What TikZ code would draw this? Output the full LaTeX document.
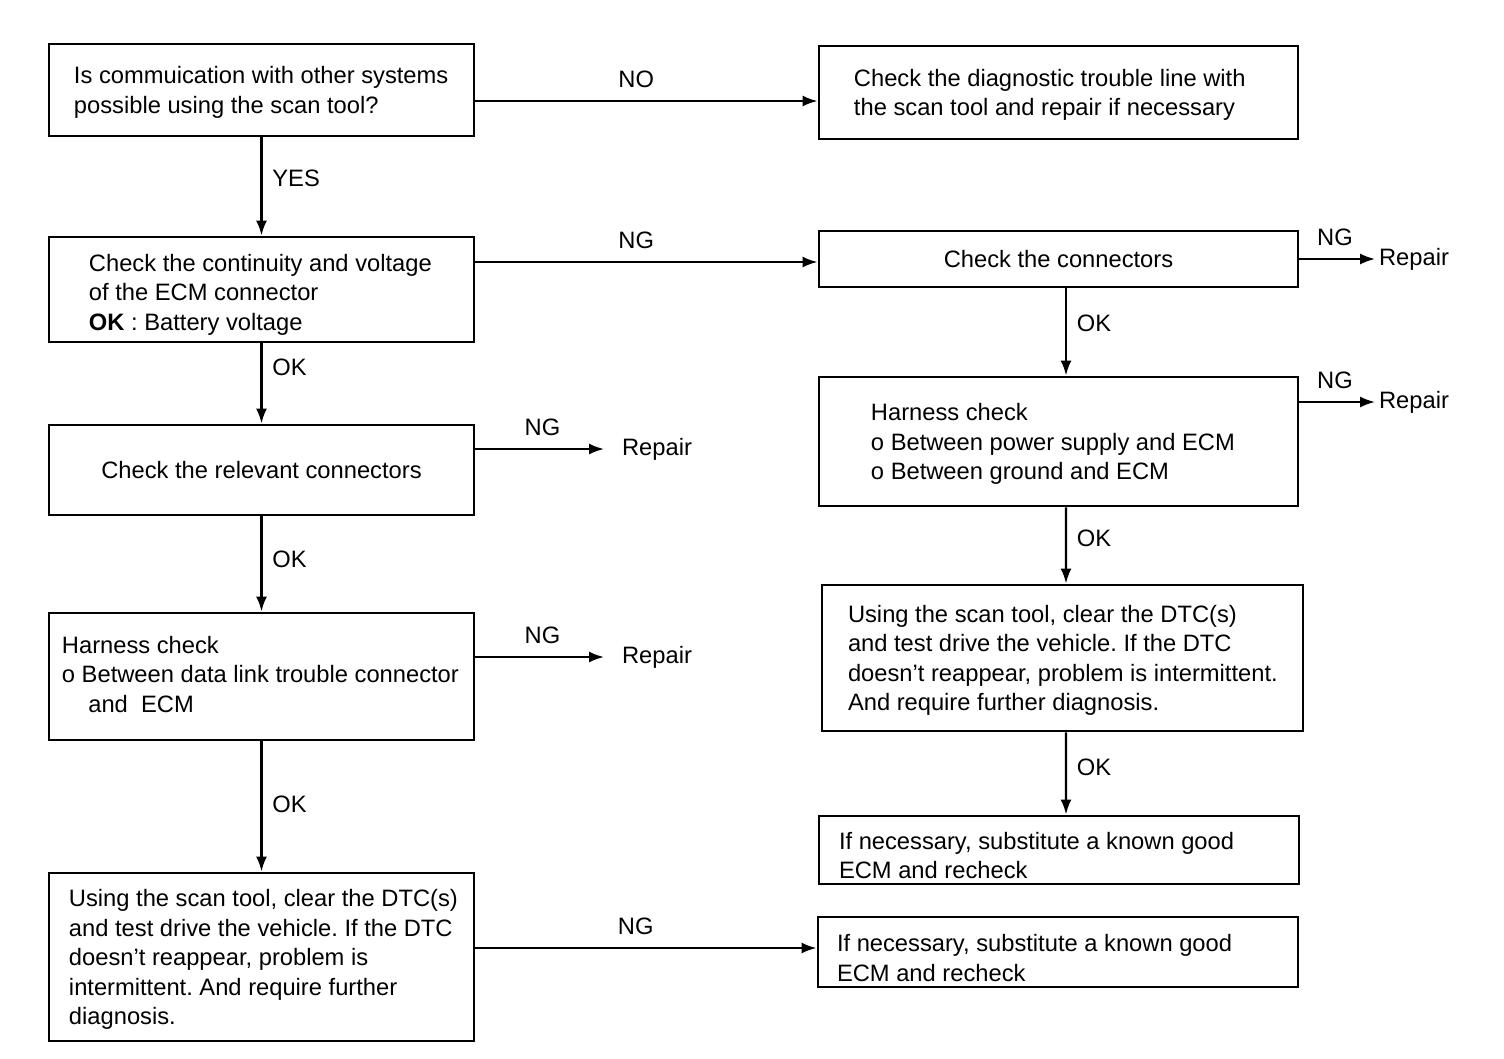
\documentclass[tikz,border=0pt]{standalone}
\usepackage{fontspec}
\setmainfont{Liberation Sans}
\usetikzlibrary{arrows.meta}
\tikzstyle{bx}=[draw=black,line width=1.6pt,inner sep=0pt]
\tikzstyle{tx}=[inner sep=0pt,align=left,anchor=west,yshift=-.05cm]
\tikzstyle{lb}=[inner sep=2pt]
\tikzstyle{ar}=[->,line width=1.4pt]

\begin{document}
\frenchspacing
\begin{tikzpicture}[x=0.02cm,y=-0.02cm,>={Latex[length=0.3cm,width=0.22cm]},
  every node/.style={font=\fontsize{13.5}{16.8}\selectfont}]
\useasboundingbox (0,0) rectangle (1504,1058);
\node[bx,minimum width=8.5cm,minimum height=1.84cm] (q1) at (261.5,90) {};
\node[bx,minimum width=9.58cm,minimum height=1.86cm] (b1) at (1058.5,92.5) {};
\node[bx,minimum width=8.5cm,minimum height=2.1cm] (c1) at (261.5,289.5) {};
\node[bx,minimum width=9.58cm,minimum height=1.12cm] (d1) at (1058.5,259) {Check the connectors};
\node[bx,minimum width=9.58cm,minimum height=2.58cm] (e1) at (1058.5,441.5) {};
\node[bx,minimum width=8.5cm,minimum height=1.8cm] (f1) at (261.5,470) {Check the relevant connectors};
\node[bx,minimum width=8.5cm,minimum height=2.54cm] (g1) at (261.5,676.5) {};
\node[bx,minimum width=9.62cm,minimum height=2.92cm] (h1) at (1062.5,658) {};
\node[bx,minimum width=9.6cm,minimum height=1.36cm] (i1) at (1059,850) {};
\node[bx,minimum width=8.5cm,minimum height=3.36cm] (j1) at (261.5,957) {};
\node[bx,minimum width=9.6cm,minimum height=1.4cm] (k1) at (1058,952) {};

\node[tx] (q1t) at ([xshift=.52cm]q1.west) {Is commuication with other systems\\possible using the scan tool?};
\node[tx] (b1t) at ([xshift=.72cm]b1.west) {Check the diagnostic trouble line with\\the scan tool and repair if necessary};
\node[tx] (c1t) at ([xshift=.82cm,yshift=-.05cm]c1.west) {Check the continuity and voltage\\of the ECM connector\\\textbf{OK} : Battery voltage};
\node[tx] (e1t) at ([xshift=1.06cm]e1.west) {Harness check\\o Between power supply and ECM\\o Between ground and ECM};
\node[tx] (g1t) at ([xshift=.28cm,yshift=.09cm]g1.west) {Harness check\\o Between data link trouble connector\\\hspace*{15pt}and\ \ ECM};
\node[tx] (h1t) at ([xshift=.54cm]h1.west) {Using the scan tool, clear the DTC(s)\\and test drive the vehicle. If the DTC\\doesn't reappear, problem is intermittent.\\And require further diagnosis.};
\node[tx] (i1t) at ([xshift=.42cm,yshift=-.06cm]i1.west) {If necessary, substitute a known good\\ECM and recheck};
\node[tx] (j1t) at ([xshift=.42cm]j1.west) {Using the scan tool, clear the DTC(s)\\and test drive the vehicle. If the DTC\\doesn't reappear, problem is\\intermittent. And require further\\diagnosis.};
\node[tx] (k1t) at ([xshift=.40cm,yshift=-.07cm]k1.west) {If necessary, substitute a known good\\ECM and recheck};

\node[lb] (rp1) at (1414,259) {Repair};
\node[lb] (rp2) at (1414,402) {Repair};
\node[lb] (rp3) at (657,449) {Repair};
\node[lb] (rp4) at (657,657) {Repair};

\draw[ar] (q1.east |- 0,101) -- (b1.west |- 0,101) node[lb,above=5pt,pos=.47] (no1) {NO};
\draw[ar] (q1) -- (c1) node[lb,right=3.5pt,pos=.42] (yes1) {YES};
\draw[ar] (c1.east |- 0,262) -- (d1.west |- 0,262) node[lb,above=5pt,pos=.47] (ng1) {NG};
\draw[ar] (d1) -- (rp1) node[lb,above=5pt,pos=.47] (ng2) {NG};
\draw[ar] ([xshift=.15cm]d1.south) -- ([xshift=.15cm]e1.north) node[lb,right=3.5pt,pos=.4] (ok1) {OK};
\draw[ar] (e1.east |- rp2) -- (rp2) node[lb,above=5pt,pos=.47] (ng3) {NG};
\draw[ar] (c1) -- (f1) node[lb,right=3.5pt,pos=.3] (ok2) {OK};
\draw[ar,shorten >=8pt] (f1.east |- rp3) -- (rp3) node[lb,above=5pt,pos=.47] (ng4) {NG};
\draw[ar] (f1) -- (g1) node[lb,right=3.5pt,pos=.45] (ok3) {OK};
\draw[ar,shorten >=8pt] (g1.east |- rp4) -- (rp4) node[lb,above=5pt,pos=.47] (ng5) {NG};
\draw[ar] (g1) -- (j1) node[lb,right=3.5pt,pos=.48] (ok4) {OK};
\draw[ar] ([xshift=.15cm]e1.south) -- ([xshift=.07cm]h1.north) node[lb,right=3.5pt,pos=.4] (ok5) {OK};
\draw[ar] ([xshift=.07cm]h1.south) -- ([xshift=.14cm]i1.north) node[lb,right=3.5pt,pos=.42] (ok6) {OK};
\draw[ar] (j1.east |- 0,948) -- (k1.west |- 0,948) node[lb,above=5pt,pos=.47] (ng6) {NG};
\end{tikzpicture}
\end{document}
